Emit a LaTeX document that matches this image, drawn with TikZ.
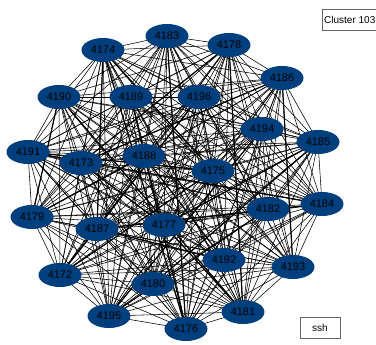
\documentclass[tikz,border=0pt]{standalone}
\usepackage{fontspec}
\setmainfont{Liberation Sans}
\usetikzlibrary{shapes.geometric,backgrounds}
\definecolor{nodeblue}{RGB}{0,63,125}
\begin{document}
\begin{tikzpicture}[x=1pt,y=-1pt,
  vnode/.style={ellipse,fill=nodeblue,minimum width=43pt,minimum height=24pt,inner sep=0pt,font=\fontsize{11}{13}\selectfont},
  edge/.style={black,line width=0.55pt},
  thick edge/.style={black,line width=1.2pt},
  legend/.style={draw=black!60,line width=0.6pt,fill=white,font=\fontsize{10}{12}\selectfont,inner sep=0pt}]
\useasboundingbox (0,0) rectangle (376,345);
\foreach \n/\x/\y in {4183/167/36,4174/103/50,4178/229/45,4186/282/78,4190/59/97,4189/131/97,4196/199/97,4194/262/129,4185/318/142,4191/28/152,4173/81/163,4188/144/156,4175/213/171,4184/322/204,4182/268/209,4179/32/217,4187/97/229,4177/164/225,4192/224/260,4193/293/267,4172/60/275,4180/153/284,4195/109/316,4176/186/329,4181/243/312}
  \node[vnode] (n\n) at (\x,\y) {\n};
\begin{pgfonlayer}{background}
\foreach \a [count=\i] in {4183,4174,4178,4186,4190,4189,4196,4194,4185,4191,4173,4188,4175,4184,4182,4179,4187,4177,4192,4193,4172,4180,4195,4176,4181}{
  \foreach \b [count=\j] in {4183,4174,4178,4186,4190,4189,4196,4194,4185,4191,4173,4188,4175,4184,4182,4179,4187,4177,4192,4193,4172,4180,4195,4176,4181}{
    \ifnum\i<\j \draw[edge] (n\a.center) -- (n\b.center);\fi
  }
}
\foreach \a/\b in {4190/4179,4178/4181,4186/4193,4183/4176,4174/4175,4174/4187,4191/4175,4173/4177,4188/4192,4189/4176,4196/4172,4186/4173,4185/4177,4184/4187,4182/4195,4179/4188,4172/4175,4180/4185,4195/4194,4176/4174,4181/4190,4191/4184,4177/4181,4187/4192,4173/4178}
  \draw[thick edge] (n\a.center) -- (n\b.center);
\end{pgfonlayer}
\node[legend,minimum width=60pt,minimum height=21pt,anchor=north west] (cl) at (322,9) {};
\node[font=\fontsize{10}{12}\selectfont,anchor=west,inner sep=0pt] (cltext) at (324,19.5) {Cluster 103};
\node[legend,minimum width=40pt,minimum height=21pt] (ssh) at (320,327.5) {ssh};
\end{tikzpicture}
\end{document}
